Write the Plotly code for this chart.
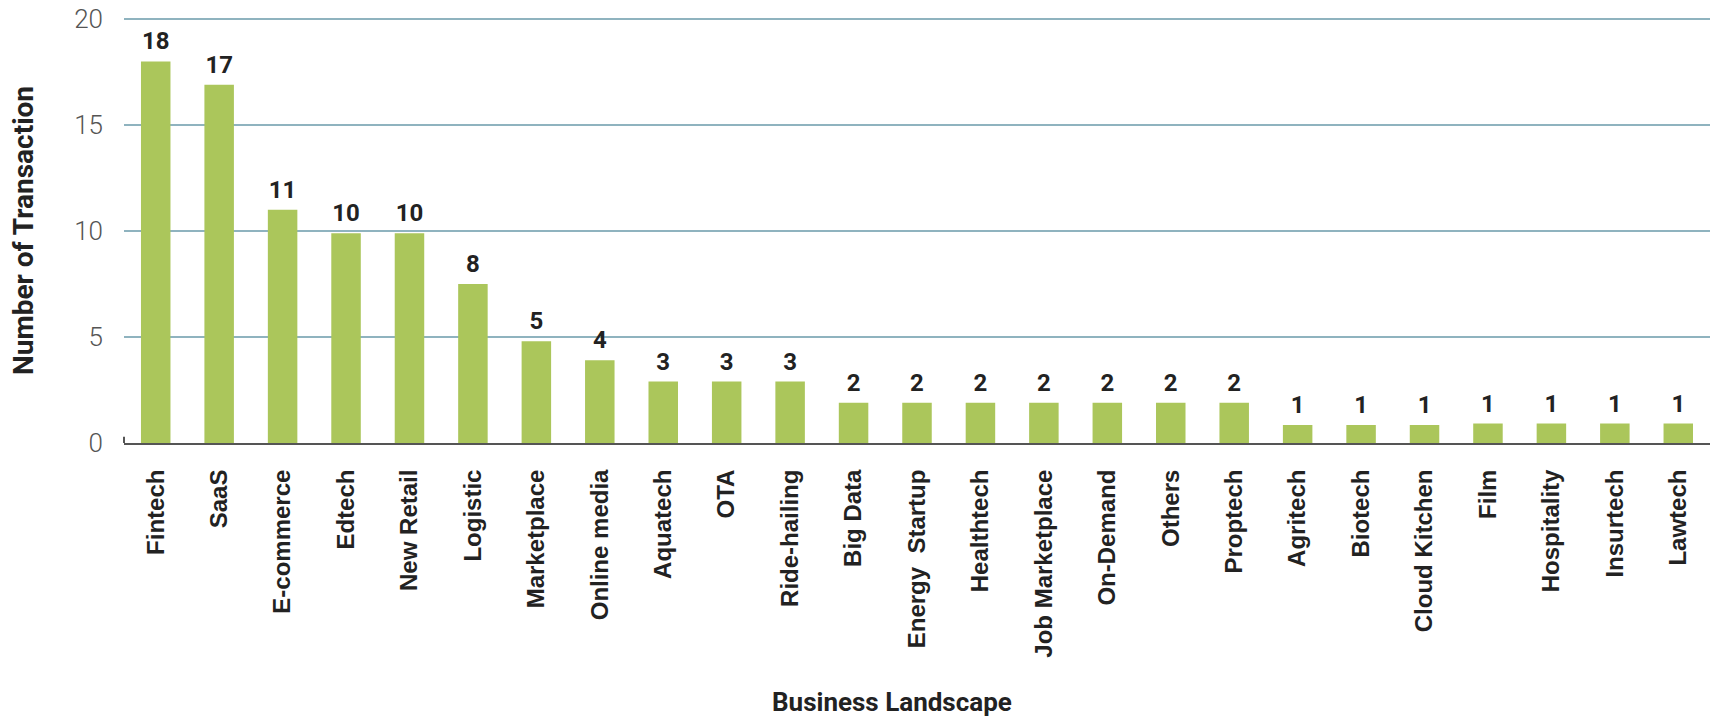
import plotly.graph_objects as go

categories = ["Fintech", "SaaS", "E-commerce", "Edtech", "New Retail", "Logistic",
              "Marketplace", "Online media", "Aquatech", "OTA", "Ride-hailing",
              "Big Data", "Energy  Startup", "Healthtech", "Job Marketplace",
              "On-Demand", "Others", "Proptech", "Agritech", "Biotech",
              "Cloud Kitchen", "Film", "Hospitality", "Insurtech", "Lawtech"]
# bar heights as drawn in the picture
heights = [18, 16.9, 11, 9.9, 9.9, 7.5, 4.8, 3.9, 2.9, 2.9, 2.9,
           1.9, 1.9, 1.9, 1.9, 1.9, 1.9, 1.9, 0.85, 0.85, 0.85, 0.92, 0.92, 0.92, 0.92]
# value labels printed above the bars
labels = ["18", "17", "11", "10", "10", "8", "5", "4", "3", "3", "3",
          "2", "2", "2", "2", "2", "2", "2", "1", "1", "1", "1", "1", "1", "1"]
y_ticks = [0, 5, 10, 15, 20]

fig = go.Figure()
fig.add_trace(go.Bar(
    x=categories, y=heights,
    marker=dict(color="#abc65b", line=dict(width=0)),
    hoverinfo="x+y",
))
fig.add_trace(go.Scatter(
    x=categories, y=heights, text=labels, mode="markers+text",
    textposition="top center",
    marker=dict(size=8, color="rgba(0,0,0,0)"),
    textfont=dict(family="Roboto", size=24, color="#222222", weight="bold"),
    cliponaxis=False, hoverinfo="skip",
))

fig.update_layout(
    width=1710, height=721,
    margin=dict(l=124, r=0, t=18, b=278, autoexpand=False),
    plot_bgcolor="white", paper_bgcolor="white",
    bargap=0.535, showlegend=False,
    font=dict(family="Roboto"),
)
fig.update_xaxes(
    automargin=False,
    showline=True, linecolor="#555555", linewidth=2,
    showgrid=False, tickangle=-90,
    ticks="outside", ticklen=15, tickcolor="rgba(0,0,0,0)",
    tickfont=dict(family="Liberation Sans", size=24, color="#222222", weight="bold"),
    range=[-0.5, len(categories) - 0.5],
)
fig.update_yaxes(
    automargin=False,
    range=[0, 20.05], tickvals=y_ticks, showgrid=True, gridcolor="#8fb3bf", gridwidth=2,
    zeroline=False, showline=False, ticklabelstandoff=20,
    tickfont=dict(family="Roboto", size=26, color="#555555", weight=300),
    title=dict(text="Number of Transaction", standoff=32,
               font=dict(family="Roboto", size=28, color="#222222", weight="bold")),
)
fig.add_shape(type="line", xref="paper", yref="y", x0=0, x1=0, y0=-0.3, y1=0.3,
              line=dict(color="#555555", width=2))
fig.add_annotation(text="Business Landscape", xref="paper", yref="paper",
                   x=0.484, y=-0.609, showarrow=False, yanchor="middle",
                   font=dict(family="Roboto", size=26, color="#222222", weight="bold"))

fig.write_html("out.html", config={"displayModeBar": False},
               post_script="document.body.style.margin='0';document.body.style.overflow='hidden';")
